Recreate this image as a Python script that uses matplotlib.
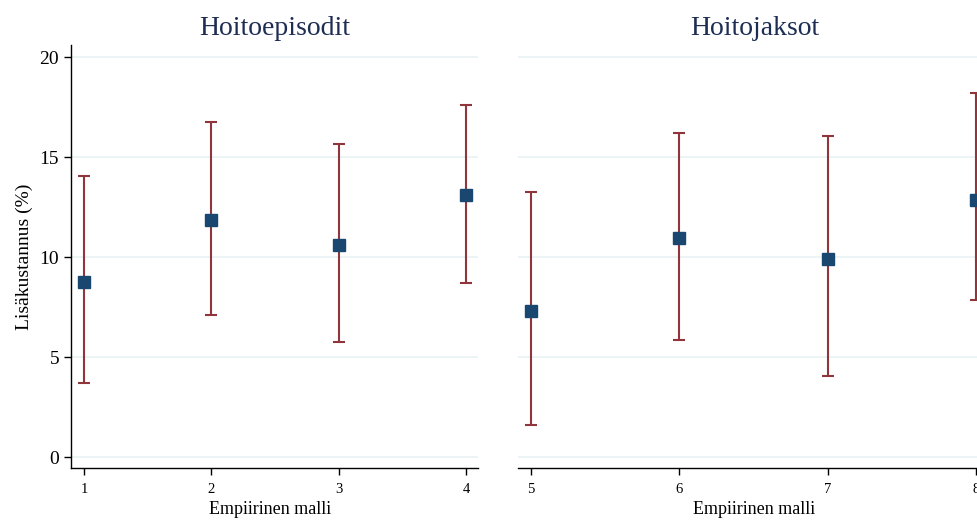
import matplotlib
matplotlib.use("Agg")
import matplotlib.pyplot as plt

plt.rcParams['font.family'] = ['Liberation Serif', 'DejaVu Serif']

# Data
left_title = "Hoitoepisodit"
right_title = "Hoitojaksot"
left_models = [1, 2, 3, 4]
left_est = [8.75, 11.85, 10.6, 13.1]
left_lo = [3.7, 7.1, 5.75, 8.7]
left_hi = [14.05, 16.75, 15.65, 17.6]
right_models = [5, 6, 7, 8]
right_est = [7.3, 10.95, 9.9, 12.85]
right_lo = [1.6, 5.85, 4.05, 7.85]
right_hi = [13.25, 16.2, 16.05, 18.2]
yticks = [0, 5, 10, 15, 20]

navy = '#1a476f'
maroon = '#90353b'
grid_c = '#eaf2f3'
title_c = '#1e2d54'

fig = plt.figure(figsize=(9.78, 5.2), dpi=100)
ax1 = fig.add_axes([71/978, 52/520, 407/978, 423/520])
ax2 = fig.add_axes([518/978, 52/520, 474/978, 423/520])

def draw(ax, xs, est, lo, hi, title, xlim, show_y, xlab_x):
    yerr = [[e - l for e, l in zip(est, lo)], [h - e for e, h in zip(est, hi)]]
    ax.errorbar(xs, est, yerr=yerr, fmt='none', ecolor=maroon, elinewidth=1.5,
                capsize=4, capthick=1.5, zorder=2)
    ax.plot(xs, est, 's', color=navy, markersize=8, zorder=3)
    ax.set_xlim(*xlim)
    ax.set_ylim(-0.55, 20.6)
    ax.set_yticks(yticks)
    ax.set_xticks(xs)
    ax.grid(axis='y', color=grid_c, linewidth=1.2)
    ax.set_axisbelow(True)
    for s in ['top', 'right']:
        ax.spines[s].set_visible(False)
    ax.spines['bottom'].set_linewidth(1.0)
    ax.tick_params(axis='x', length=5, width=1, labelsize=10.5, pad=6)
    ax.set_xlabel("Empiirinen malli", fontsize=13)
    ax.xaxis.set_label_coords(xlab_x, -0.078)
    ax.set_title(title, fontsize=20, color=title_c, pad=7)
    if show_y:
        ax.spines['left'].set_linewidth(1.0)
        ax.tick_params(axis='y', length=5, width=1, labelsize=14, pad=3.5)
        ax.set_ylabel("Lisäkustannus (%)", fontsize=14, labelpad=5)
    else:
        ax.spines['left'].set_visible(False)
        ax.tick_params(axis='y', length=0, labelleft=False)

draw(ax1, left_models, left_est, left_lo, left_hi, left_title, (0.898, 4.094), True, 0.489)
draw(ax2, right_models, right_est, right_lo, right_hi, right_title, (4.912, 8.108), False, 0.497)

fig.savefig("out.png", dpi=100)
